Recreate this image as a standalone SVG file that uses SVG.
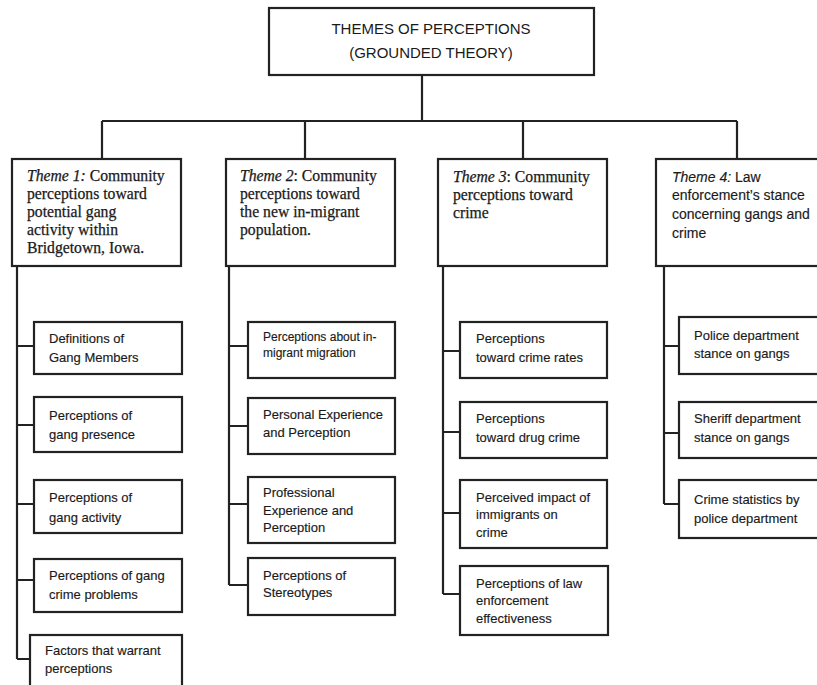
<svg xmlns="http://www.w3.org/2000/svg" width="817" height="685" viewBox="0 0 817 685">
<style>
.box{fill:#fff;stroke:#222;stroke-width:2.2}
.ln{fill:none;stroke:#222;stroke-width:2.2}
.ser{font-family:"Liberation Serif","DejaVu Serif",serif;font-size:15.7px;fill:#1a1a1a;stroke:#1a1a1a;stroke-width:0.25}
.sans{font-family:"Liberation Sans",Arial,sans-serif;font-size:13px;fill:#1a1a1a;stroke:#1a1a1a;stroke-width:0.15}
.t4{font-family:"Liberation Sans",Arial,sans-serif;font-size:14px;fill:#1a1a1a;stroke:#1a1a1a;stroke-width:0.15}
.top{font-family:"Liberation Sans",Arial,sans-serif;font-size:15px;fill:#1a1a1a;text-anchor:middle}
.it{font-style:italic}
</style>
<rect width="817" height="685" fill="#fff"/>
<g id="connectors">
<path class="ln" d="M422 75V121M102 121H737M102 121V159M305 121V159M523 121V159M737 121V159"/>
<path class="ln" d="M17 266V659M17 346H34M17 425H34M17 504H34M17 580H34M17 659H30"/>
<path class="ln" d="M229 266V585M229 346H248M229 426H248M229 504H248M229 585H248"/>
<path class="ln" d="M443 266V594M443 351H460M443 432H460M443 513H460M443 594H460"/>
<path class="ln" d="M664 266V504M664 346H679M664 433H679M664 504H679"/>
</g>
<g id="root">
<rect class="box" x="269" y="8" width="325" height="67"/>
<text class="top" x="431" y="34">THEMES OF PERCEPTIONS</text>
<text class="top" x="431" y="58">(GROUNDED THEORY)</text>
</g>
<g id="theme1">
<rect class="box" x="12" y="159" width="169" height="107"/>
<text class="ser" x="27"><tspan x="27" y="181"><tspan class="it">Theme 1:</tspan> Community</tspan><tspan x="27" y="199">perceptions toward</tspan><tspan x="27" y="217">potential gang</tspan><tspan x="27" y="235">activity within</tspan><tspan x="27" y="253">Bridgetown, Iowa.</tspan></text>
</g>
<g id="theme2">
<rect class="box" x="226" y="159" width="169" height="107"/>
<text class="ser"><tspan x="240" y="181"><tspan class="it">Theme 2</tspan>: Community</tspan><tspan x="240" y="199">perceptions toward</tspan><tspan x="240" y="217">the new in-migrant</tspan><tspan x="240" y="235">population.</tspan></text>
</g>
<g id="theme3">
<rect class="box" x="438" y="159" width="169" height="107"/>
<text class="ser"><tspan x="453" y="182"><tspan class="it">Theme 3</tspan>: Community</tspan><tspan x="453" y="200">perceptions toward</tspan><tspan x="453" y="218">crime</tspan></text>
</g>
<g id="theme4">
<rect class="box" x="656" y="159" width="170" height="107"/>
<text class="t4"><tspan x="672" y="182"><tspan class="it">Theme 4:</tspan> Law</tspan><tspan x="672" y="200">enforcement’s stance</tspan><tspan x="672" y="219">concerning gangs and</tspan><tspan x="672" y="238">crime</tspan></text>
</g>
<g id="t1-defs">
<rect class="box" x="34" y="322" width="148" height="52"/>
<text class="sans"><tspan x="49" y="343">Definitions of</tspan><tspan x="49" y="362">Gang Members</tspan></text>
</g>
<g id="t1-presence">
<rect class="box" x="34" y="397" width="148" height="55"/>
<text class="sans"><tspan x="49" y="420">Perceptions of</tspan><tspan x="49" y="439">gang presence</tspan></text>
</g>
<g id="t1-activity">
<rect class="box" x="34" y="480" width="148" height="53"/>
<text class="sans"><tspan x="49" y="502">Perceptions of</tspan><tspan x="49" y="522">gang activity</tspan></text>
</g>
<g id="t1-problems">
<rect class="box" x="34" y="559" width="148" height="53"/>
<text class="sans"><tspan x="49" y="580">Perceptions of gang</tspan><tspan x="49" y="599">crime problems</tspan></text>
</g>
<g id="t1-factors">
<rect class="box" x="30" y="635" width="152" height="60"/>
<text class="sans"><tspan x="45" y="655">Factors that warrant</tspan><tspan x="45" y="673">perceptions</tspan></text>
</g>
<g id="t2-migration">
<rect class="box" x="248" y="322" width="147" height="56"/>
<text class="sans" style="font-size:12px"><tspan x="263" y="341">Perceptions about in-</tspan><tspan x="263" y="357">migrant migration</tspan></text>
</g>
<g id="t2-personal">
<rect class="box" x="248" y="398" width="147" height="56"/>
<text class="sans"><tspan x="263" y="419">Personal Experience</tspan><tspan x="263" y="437">and Perception</tspan></text>
</g>
<g id="t2-professional">
<rect class="box" x="248" y="477" width="147" height="66"/>
<text class="sans"><tspan x="263" y="497">Professional</tspan><tspan x="263" y="515">Experience and</tspan><tspan x="263" y="532">Perception</tspan></text>
</g>
<g id="t2-stereotypes">
<rect class="box" x="248" y="558" width="147" height="57"/>
<text class="sans"><tspan x="263" y="580">Perceptions of</tspan><tspan x="263" y="597">Stereotypes</tspan></text>
</g>
<g id="t3-rates">
<rect class="box" x="460" y="322" width="147" height="56"/>
<text class="sans"><tspan x="476" y="343">Perceptions</tspan><tspan x="476" y="362">toward crime rates</tspan></text>
</g>
<g id="t3-drug">
<rect class="box" x="460" y="402" width="147" height="56"/>
<text class="sans"><tspan x="476" y="423">Perceptions</tspan><tspan x="476" y="442">toward drug crime</tspan></text>
</g>
<g id="t3-immigrants">
<rect class="box" x="460" y="480" width="147" height="68"/>
<text class="sans"><tspan x="476" y="502">Perceived impact of</tspan><tspan x="476" y="519">immigrants on</tspan><tspan x="476" y="537">crime</tspan></text>
</g>
<g id="t3-law">
<rect class="box" x="460" y="566" width="148" height="69"/>
<text class="sans"><tspan x="476" y="588">Perceptions of law</tspan><tspan x="476" y="605">enforcement</tspan><tspan x="476" y="623">effectiveness</tspan></text>
</g>
<g id="t4-police">
<rect class="box" x="679" y="317" width="150" height="57"/>
<text class="sans"><tspan x="694" y="340">Police department</tspan><tspan x="694" y="358">stance on gangs</tspan></text>
</g>
<g id="t4-sheriff">
<rect class="box" x="679" y="402" width="150" height="56"/>
<text class="sans"><tspan x="694" y="423">Sheriff department</tspan><tspan x="694" y="442">stance on gangs</tspan></text>
</g>
<g id="t4-stats">
<rect class="box" x="679" y="480" width="150" height="58"/>
<text class="sans"><tspan x="694" y="504">Crime statistics by</tspan><tspan x="694" y="523">police department</tspan></text>
</g>
</svg>
